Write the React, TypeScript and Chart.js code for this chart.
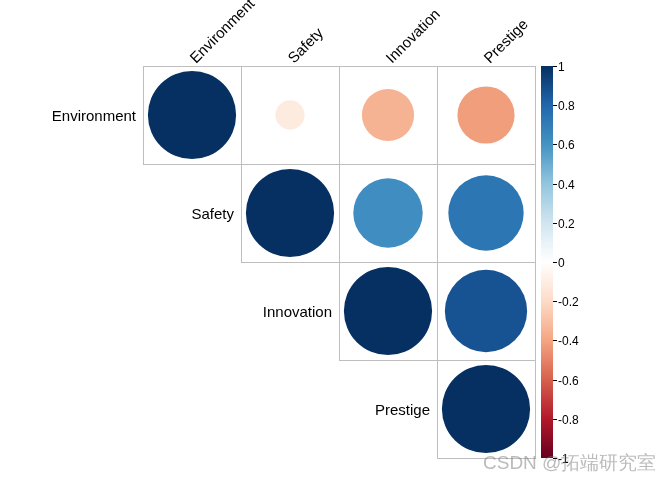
import React, { useEffect, useRef } from "react";
import { Chart, registerables } from "chart.js";

Chart.register(...registerables);

const variables = ["Environment", "Safety", "Innovation", "Prestige"];
const corrEnvironment = [1, -0.11, -0.35, -0.42];
const corrSafety = [-0.11, 1, 0.62, 0.73];
const corrInnovation = [-0.35, 0.62, 1, 0.87];
const corrPrestige = [-0.42, 0.73, 0.87, 1];
const corrRows = [corrEnvironment, corrSafety, corrInnovation, corrPrestige];
const colorbarTicks = [1, 0.8, 0.6, 0.4, 0.2, 0, -0.2, -0.4, -0.6, -0.8, -1];
const paletteStops = [
  "#67001F", "#B2182B", "#D6604D", "#F4A582", "#FDDBC7", "#FFFFFF",
  "#D1E5F0", "#92C5DE", "#4393C3", "#2166AC", "#053061",
];

function hexToRgb(h: string) {
  const n = parseInt(h.slice(1), 16);
  return [(n >> 16) & 255, (n >> 8) & 255, n & 255];
}
function corrColor(v: number) {
  const t = ((v + 1) / 2) * (paletteStops.length - 1);
  const i = Math.min(Math.floor(t), paletteStops.length - 2);
  const f = t - i;
  const a = hexToRgb(paletteStops[i]);
  const b = hexToRgb(paletteStops[i + 1]);
  const c = a.map((x, k) => Math.round(x + (b[k] - x) * f));
  return `rgb(${c[0]},${c[1]},${c[2]})`;
}

const FONT = '"Liberation Sans", Arial, sans-serif';

export default function App() {
  const ref = useRef<HTMLCanvasElement>(null);
  useEffect(() => {
    const points: any[] = [];
    corrRows.forEach((row, i) => {
      row.forEach((v, j) => {
        if (j >= i) points.push({ x: j + 0.5, y: i + 0.5, v });
      });
    });

    const radiusFor = (c: any) => {
      const xs = c.chart.scales.x;
      const cell = xs.getPixelForValue(1) - xs.getPixelForValue(0);
      return Math.sqrt(Math.abs(c.raw ? c.raw.v : 0)) * cell * 0.45;
    };

    const cellPlugin = {
      id: "corrGrid",
      beforeDatasetsDraw(chart: any) {
        const { ctx } = chart;
        const xs = chart.scales.x;
        const ys = chart.scales.y;
        ctx.save();
        ctx.strokeStyle = "#BEBEBE";
        ctx.lineWidth = 1;
        for (let i = 0; i < variables.length; i++) {
          for (let j = i; j < variables.length; j++) {
            const x0 = Math.round(xs.getPixelForValue(j)) + 0.5;
            const x1 = Math.round(xs.getPixelForValue(j + 1)) + 0.5;
            const y0 = Math.round(ys.getPixelForValue(i)) + 0.5;
            const y1 = Math.round(ys.getPixelForValue(i + 1)) + 0.5;
            ctx.strokeRect(x0, y0, x1 - x0, y1 - y0);
          }
        }
        ctx.restore();
      },
      afterDraw(chart: any) {
        const { ctx, chartArea } = chart;
        const xs = chart.scales.x;
        const ys = chart.scales.y;
        const cs = chart.scales.c;
        ctx.save();
        ctx.fillStyle = "#000";
        ctx.font = `15px ${FONT}`;
        // row labels
        ctx.textAlign = "right";
        ctx.textBaseline = "middle";
        variables.forEach((name, i) => {
          ctx.fillText(name, xs.getPixelForValue(i) - 7, ys.getPixelForValue(i + 0.5) + 2);
        });
        // column labels
        variables.forEach((name, j) => {
          ctx.save();
          ctx.translate(xs.getPixelForValue(j + 0.5) + 4, chartArea.top - 2);
          ctx.rotate(-Math.PI / 4);
          ctx.textAlign = "left";
          ctx.textBaseline = "alphabetic";
          ctx.fillText(name, 0, 0);
          ctx.restore();
        });
        // colorbar
        const bx = chartArea.right + 6;
        const bw = 12;
        const top = cs.getPixelForValue(1);
        const bot = cs.getPixelForValue(-1);
        const grad = ctx.createLinearGradient(0, bot, 0, top);
        paletteStops.forEach((c, k) => grad.addColorStop(k / (paletteStops.length - 1), c));
        ctx.fillStyle = grad;
        ctx.fillRect(bx, top, bw, bot - top);
        ctx.strokeStyle = "#000";
        ctx.lineWidth = 1;
        ctx.fillStyle = "#000";
        ctx.font = `12px ${FONT}`;
        ctx.textAlign = "left";
        ctx.textBaseline = "middle";
        colorbarTicks.forEach((t) => {
          const y = Math.round(cs.getPixelForValue(t)) + 0.5;
          ctx.beginPath();
          ctx.moveTo(bx + bw, y);
          ctx.lineTo(bx + bw + 4, y);
          ctx.stroke();
          ctx.fillText(String(t), bx + bw + 5, y + 1);
        });
        // watermark
        ctx.font = `19px ${FONT}`;
        ctx.fillStyle = "rgba(120,120,120,0.5)";
        ctx.textAlign = "left";
        ctx.textBaseline = "alphabetic";
        ctx.fillText("CSDN @拓端研究室", 483, 469);
        ctx.restore();
      },
    };

    const chart = new Chart(ref.current as HTMLCanvasElement, {
      type: "scatter",
      data: {
        datasets: [
          {
            data: points,
            showLine: false,
            pointStyle: "circle",
            pointBackgroundColor: (c: any) => corrColor(c.raw ? c.raw.v : 0),
            pointBorderWidth: 0,
            pointBorderColor: "rgba(0,0,0,0)",
            pointRadius: radiusFor,
            pointHoverRadius: radiusFor,
          } as any,
        ],
      },
      options: {
        responsive: false,
        animation: false,
        layout: { padding: { left: 143, right: 137, top: 66, bottom: 22 } },
        scales: {
          x: { type: "linear", min: 0, max: 4, display: false },
          y: { type: "linear", min: 0, max: 4, reverse: true, display: false },
          c: { type: "linear", axis: "y", position: "right", min: -1, max: 1, display: false },
        } as any,
        plugins: { legend: { display: false }, tooltip: { enabled: false } },
      },
      plugins: [cellPlugin],
    });
    return () => chart.destroy();
  }, []);
  return (
    <div style={{ position: "absolute", left: 0, top: 0, width: 672, height: 480, background: "#fff" }}>
      <canvas ref={ref} width={672} height={480} style={{ width: 672, height: 480 }} />
    </div>
  );
}
